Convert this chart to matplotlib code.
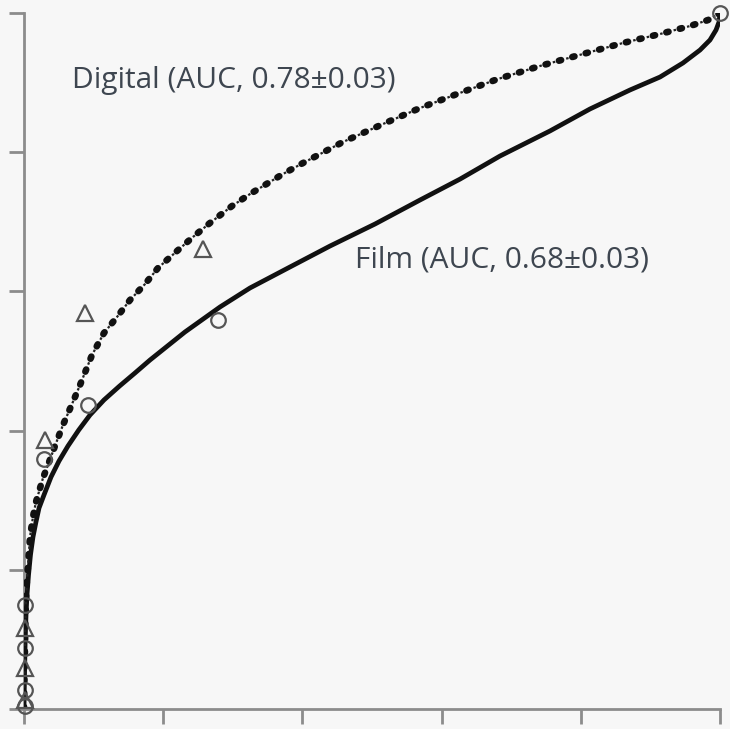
import matplotlib
matplotlib.use("Agg")
import matplotlib.pyplot as plt

# ROC curves (false-positive fraction, true-positive fraction)
film_x = [0, 0.0004, 0.001, 0.0017, 0.0029, 0.0043, 0.0065, 0.0093, 0.0129, 0.0172,
          0.0216, 0.0287, 0.0388, 0.0503, 0.0632, 0.0787, 0.0948, 0.1149, 0.1374,
          0.1595, 0.1810, 0.2313, 0.2816, 0.3247, 0.3822, 0.4397, 0.5043, 0.5690,
          0.6264, 0.6839, 0.7557, 0.8132, 0.8707, 0.9138, 0.9468, 0.9713, 0.9856,
          0.9943, 0.9986, 1.0]
film_y = [0, 0.0273, 0.0632, 0.0991, 0.1351, 0.1638, 0.1925, 0.2213, 0.2471, 0.2687,
          0.2888, 0.3075, 0.3333, 0.3563, 0.3779, 0.4009, 0.4224, 0.4440, 0.4641,
          0.4828, 0.5014, 0.5417, 0.5776, 0.6049, 0.6351, 0.6652, 0.6968, 0.7313,
          0.7613, 0.7945, 0.8305, 0.8621, 0.8894, 0.9080, 0.9282, 0.9468, 0.9612,
          0.9756, 0.9871, 1.0]

digital_x = [0, 0.0007, 0.0014, 0.0022, 0.0036, 0.0057, 0.0086, 0.0129, 0.0172,
             0.0273, 0.0345, 0.0445, 0.0560, 0.0690, 0.0805, 0.0977, 0.1149, 0.1336,
             0.1523, 0.1739, 0.1925, 0.2198, 0.2428, 0.2672, 0.2989, 0.3247, 0.3721,
             0.4009, 0.4583, 0.5158, 0.5690, 0.6221, 0.6810, 0.7414, 0.8032, 0.8606,
             0.9138, 0.9569, 0.9828, 1.0]
digital_y = [0, 0.0489, 0.0920, 0.1351, 0.1767, 0.2055, 0.2471, 0.2759, 0.2974,
             0.3319, 0.3506, 0.3779, 0.4080, 0.4382, 0.4655, 0.5086, 0.5402, 0.5632,
             0.5876, 0.6106, 0.6336, 0.6580, 0.6782, 0.6983, 0.7227, 0.7399, 0.7687,
             0.7845, 0.8147, 0.8405, 0.8635, 0.8836, 0.9052, 0.9239, 0.9411, 0.9569,
             0.9698, 0.9813, 0.9899, 1.0]

# observed operating points
film_pts_x = [0.0014, 0.0014, 0.0014, 0.0014, 0.029, 0.092, 0.279, 1.0]
film_pts_y = [0.004, 0.027, 0.088, 0.149, 0.359, 0.437, 0.559, 1.0]
digital_pts_x = [0.0014, 0.0014, 0.0014, 0.030, 0.088, 0.257]
digital_pts_y = [0.013, 0.059, 0.116, 0.386, 0.569, 0.661]

labels = ["Film (AUC, 0.68\u00b10.03)", "Digital (AUC, 0.78\u00b10.03)"]
ticks = [0, 0.2, 0.4, 0.6, 0.8, 1.0]

bg = "#f7f7f7"
grey = "#8c8c8c"
txt = "#3e4650"

fig = plt.figure(figsize=(7.3, 7.29), dpi=100, facecolor=bg)
ax = fig.add_axes([24 / 730, 20 / 729, 696 / 730, 696 / 729], facecolor=bg)

ax.plot(film_x, film_y, color="#111111", lw=3.4, solid_joinstyle="round",
        solid_capstyle="round", zorder=3)

# dash-dot line: round blobs with small thin dashes between (period 10 pt)
lw_big, lw_small = 4.8, 1.6
ax.plot(digital_x, digital_y, color="#111111", lw=lw_big, dash_capstyle="round",
        linestyle=(0, (1.6 / lw_big, 8.4 / lw_big)), zorder=3)
ax.plot(digital_x, digital_y, color="#222222", lw=lw_small,
        linestyle=(4.6 / lw_small, (1.8 / lw_small, 8.2 / lw_small)), zorder=3)

ax.plot(film_pts_x, film_pts_y, "o", ms=10.5, mfc="none", mec="#555555", mew=1.6,
        clip_on=False, zorder=4)
ax.plot(digital_pts_x, digital_pts_y, "^", ms=11, mfc="none", mec="#555555", mew=1.6,
        clip_on=False, zorder=4)

ax.text(0.4756, 0.634, labels[0], fontsize=21.5, color=txt, family="Open Sans",
        va="baseline", ha="left")
ax.text(0.069, 0.892, labels[1], fontsize=21.5, color=txt, family="Open Sans",
        va="baseline", ha="left")

ax.set_xlim(0, 1)
ax.set_ylim(0, 1)
ax.set_xticks(ticks)
ax.set_yticks(ticks)
ax.set_xticklabels([])
ax.set_yticklabels([])
ax.tick_params(direction="out", length=11, width=2, color=grey)
for side in ["top", "right"]:
    ax.spines[side].set_visible(False)
for side in ["left", "bottom"]:
    ax.spines[side].set_color(grey)
    ax.spines[side].set_linewidth(2)

fig.savefig("out.png", dpi=100, facecolor=bg)
